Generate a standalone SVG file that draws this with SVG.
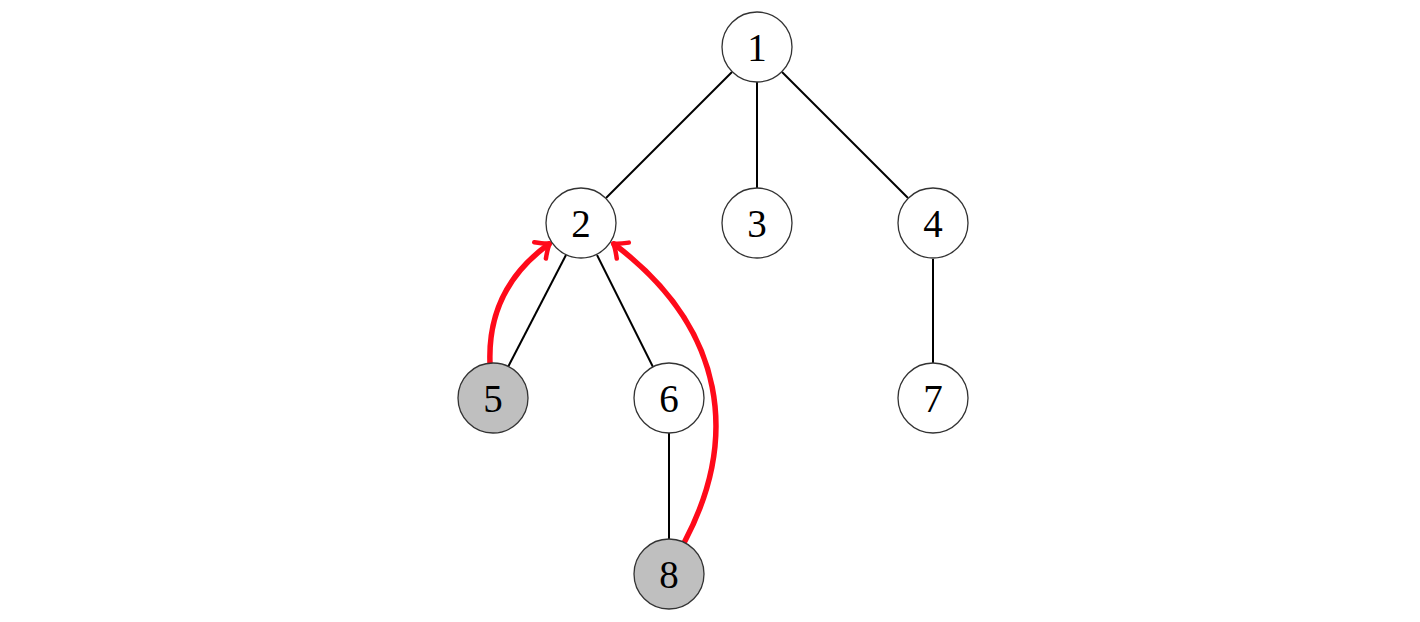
<svg xmlns="http://www.w3.org/2000/svg" width="1420" height="622" viewBox="0 0 1420 622">
<style>
.node circle{fill:#fff;stroke:#333;stroke-width:1.3}
.node.g circle{fill:#bfbfbf}
.node text{font-family:"Liberation Serif","DejaVu Serif",serif;font-size:39px;fill:#000;text-anchor:middle;dominant-baseline:central}
.edge{stroke:#000;stroke-width:2;fill:none}
.red{stroke:#ff0a1a;stroke-width:5.5;fill:none;stroke-linecap:round}
</style>
<defs>
<marker id="ah" markerUnits="userSpaceOnUse" viewBox="-16 -14 22 28" markerWidth="22" markerHeight="28" refX="0" refY="0" orient="auto">
<path d="M-11,-10 Q-3,-2 1,0 Q-3,2 -11,10" fill="none" stroke="#ff0a1a" stroke-width="4.5" stroke-linecap="round" stroke-linejoin="round"/>
</marker>
</defs>
<g id="connectors">
<line class="edge" x1="732" y1="72" x2="606" y2="198"/>
<line class="edge" x1="757" y1="82" x2="757" y2="188"/>
<line class="edge" x1="782" y1="72" x2="908" y2="198"/>
<line class="edge" x1="566" y1="255" x2="508" y2="367"/>
<line class="edge" x1="597" y1="255" x2="653" y2="367"/>
<line class="edge" x1="933" y1="259" x2="933" y2="363"/>
<line class="edge" x1="669" y1="433" x2="669" y2="539"/>
<path class="red" d="M490,363 C488,310 510,272 549,244" marker-end="url(#ah)"/>
<path class="red" d="M685,541 C738,440 728,330 614,244" marker-end="url(#ah)"/>
</g>
<g id="n1" class="node"><circle cx="757" cy="47" r="35"/><text x="757" y="47">1</text></g>
<g id="n2" class="node"><circle cx="581" cy="223" r="35"/><text x="581" y="223">2</text></g>
<g id="n3" class="node"><circle cx="757" cy="223" r="35"/><text x="757" y="223">3</text></g>
<g id="n4" class="node"><circle cx="933" cy="223" r="35"/><text x="933" y="223">4</text></g>
<g id="n5" class="node g"><circle cx="493" cy="398" r="35"/><text x="493" y="398">5</text></g>
<g id="n6" class="node"><circle cx="669" cy="398" r="35"/><text x="669" y="398">6</text></g>
<g id="n7" class="node"><circle cx="933" cy="398" r="35"/><text x="933" y="398">7</text></g>
<g id="n8" class="node g"><circle cx="669" cy="574" r="35"/><text x="669" y="574">8</text></g>
</svg>
